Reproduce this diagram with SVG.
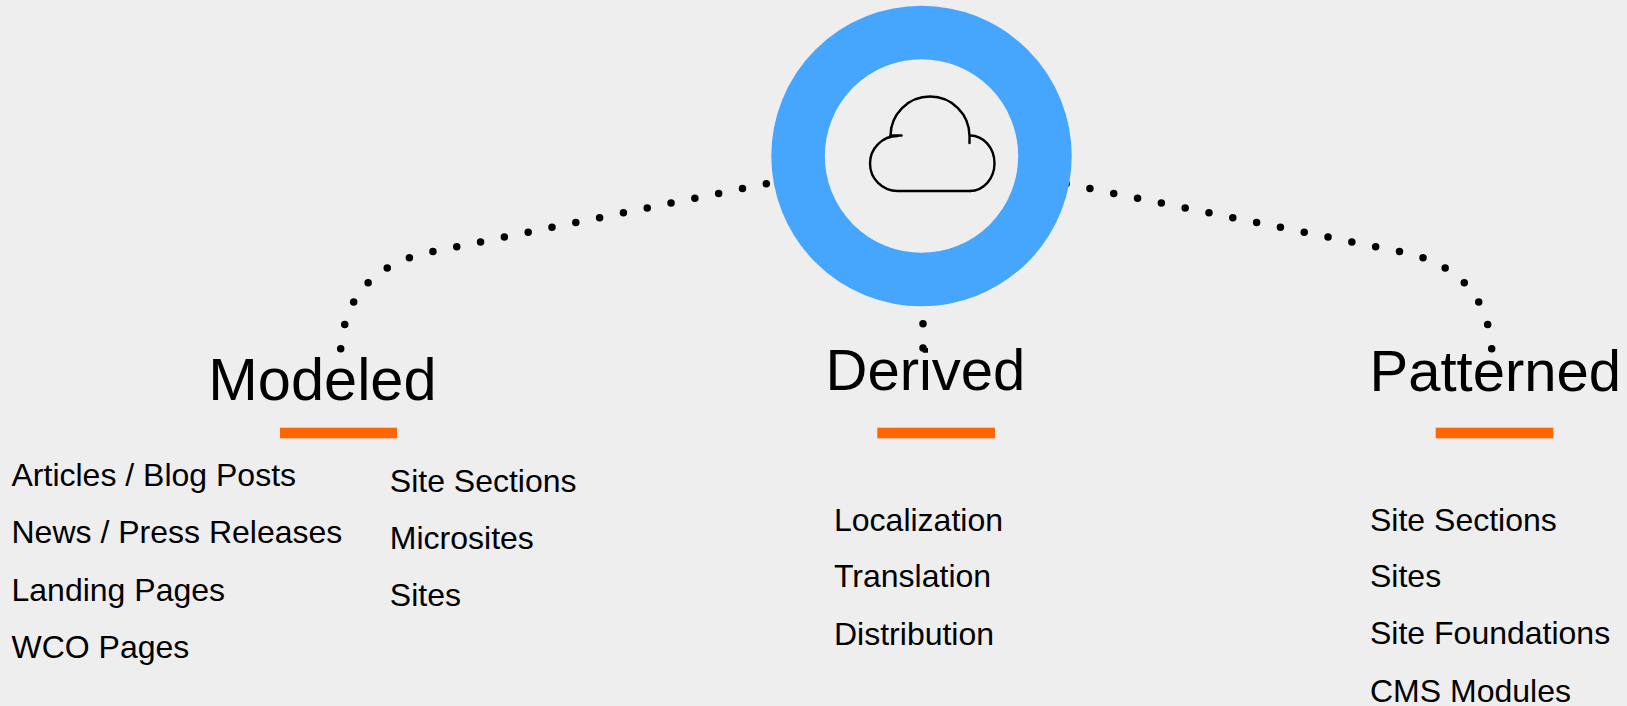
<svg xmlns="http://www.w3.org/2000/svg" width="1627" height="706" viewBox="0 0 1627 706">
<style>
.head{font-family:"Liberation Sans",Arial,sans-serif;font-size:58px;fill:#000}
.item{font-family:"Liberation Sans",Arial,sans-serif;font-size:32px;fill:#000}
.bar{fill:#ff6600}
.dots{fill:none;stroke:#000;stroke-width:7.5;stroke-linecap:round;stroke-dasharray:0 24.3}
.icon{fill:none;stroke:#000;stroke-width:2.4;stroke-linecap:round;stroke-linejoin:round}
</style>
<rect x="0" y="0" width="1627" height="706" fill="#eeeeee"/>
<g id="connectors">
<path class="dots" d="M340.7,348.7 C345,295 375,263.4 431,252 L811,174.6"/>
<path class="dots" d="M1491.7,348.7 C1487.4,295 1457.4,263.4 1401.4,252 L1021.4,174.6"/>
<path class="dots" d="M923,348 L923,290"/>
</g>
<g id="hub">
<circle cx="921.5" cy="156" r="123.45" fill="none" stroke="#46a5fd" stroke-width="53.5"/>
<g class="icon">
<path d="M890.5,136 A39.5,39.5 0 0 1 969.5,136 L969.5,143"/>
<path d="M890.5,135.5 L901.5,135.5"/>
<path d="M897.5,136 A27.5,27.5 0 0 0 897.5,191 L970,191"/>
<path d="M970,135.5 A24.5,27.75 0 0 1 970,191"/>
</g>
</g>
<g id="modeled">
<text class="head" x="208.3" y="400" style="font-size:59.5px">Modeled</text>
<rect class="bar" x="280" y="427.7" width="117" height="10.6"/>
<text class="item" x="11.5" y="486">Articles / Blog Posts</text>
<text class="item" x="11.5" y="543.3">News / Press Releases</text>
<text class="item" x="11.5" y="601">Landing Pages</text>
<text class="item" x="11.5" y="658.3">WCO Pages</text>
<text class="item" x="389.8" y="491.7">Site Sections</text>
<text class="item" x="389.8" y="548.7">Microsites</text>
<text class="item" x="389.8" y="606">Sites</text>
</g>
<g id="derived">
<text class="head" x="825.5" y="390">Derived</text>
<rect class="bar" x="877.3" y="427.7" width="117.7" height="10.6"/>
<text class="item" x="834" y="530.7">Localization</text>
<text class="item" x="834" y="587.3">Translation</text>
<text class="item" x="834" y="645">Distribution</text>
</g>
<g id="patterned">
<text class="head" x="1369.5" y="390.5">Patterned</text>
<rect class="bar" x="1435.7" y="427.7" width="117.6" height="10.6"/>
<text class="item" x="1370" y="530.7">Site Sections</text>
<text class="item" x="1370" y="587">Sites</text>
<text class="item" x="1370" y="644.3">Site Foundations</text>
<text class="item" x="1370" y="701.5">CMS Modules</text>
</g>
</svg>
